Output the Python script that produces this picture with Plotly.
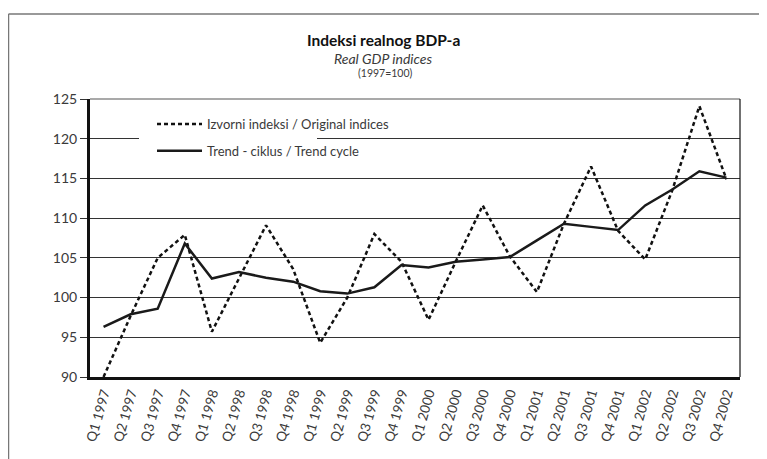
import plotly.graph_objects as go

quarters = ["Q1 1997","Q2 1997","Q3 1997","Q4 1997",
            "Q1 1998","Q2 1998","Q3 1998","Q4 1998",
            "Q1 1999","Q2 1999","Q3 1999","Q4 1999",
            "Q1 2000","Q2 2000","Q3 2000","Q4 2000",
            "Q1 2001","Q2 2001","Q3 2001","Q4 2001",
            "Q1 2002","Q2 2002","Q3 2002","Q4 2002"]
original = [90.0, 97.7, 105.0, 107.9,
            95.7, 102.5, 109.1, 103.6,
            94.3, 100.0, 108.0, 104.5,
            97.2, 104.5, 111.6, 105.2,
            100.7, 109.3, 116.5, 108.4,
            104.8, 113.5, 124.1, 114.9]
trend = [96.3, 97.9, 98.6, 106.8,
         102.4, 103.2, 102.5, 102.0,
         100.8, 100.5, 101.3, 104.1,
         103.8, 104.5, 104.8, 105.1,
         107.2, 109.3, 108.9, 108.5,
         111.6, 113.6, 115.9, 115.1]
y_ticks = [90, 95, 100, 105, 110, 115, 120, 125]

FONT = "Lato"
TXT = "#3a3a3a"

fig = go.Figure()
fig.add_trace(go.Scatter(x=quarters, y=original, mode="lines",
                         name="Izvorni indeksi / Original indices",
                         line=dict(color="#111111", width=2.5, dash="4px,3px"),
                         legendgroup="a"))
fig.add_trace(go.Scatter(x=quarters, y=trend, mode="lines",
                         name="Trend - ciklus / Trend cycle",
                         line=dict(color="#1a1a1a", width=2.5),
                         legendgroup="b"))

# The page body adds an 8px offset; work in page pixel coordinates.
OFF = 8
W, H = 767 - OFF, 459 - OFF
PL, PR, PT, PB = 90, 740, 99, 377          # plot area in page pixels
L, R, T, B = PL - OFF, W - (PR - OFF), PT - OFF, H - (PB - OFF)
pw, ph = W - L - R, H - T - B

def px(x):
    return (x - OFF - L) / pw

def py(y):
    return (H - B - (y - OFF)) / ph

fig.update_layout(
    width=W, height=H,
    margin=dict(l=L, r=R, t=T, b=B, autoexpand=False),
    paper_bgcolor="white", plot_bgcolor="white",
    font=dict(family=FONT, color=TXT, size=12),
    showlegend=True,
    legend=dict(x=px(152), y=py(109), xanchor="left", yanchor="top",
                bgcolor="rgba(0,0,0,0)", font=dict(size=13, color=TXT),
                tracegroupgap=7, itemwidth=45),
    xaxis=dict(type="category", range=[-0.5, 23.5], showgrid=False,
               showline=True, linecolor="#111111", linewidth=3,
               ticks="", tickangle=-74, tickfont=dict(size=13.5, color=TXT),
               zeroline=False, automargin=False),
    yaxis=dict(range=[90, 125], tickvals=y_ticks, showgrid=True,
               gridcolor="#333333", gridwidth=1,
               showline=True, linecolor="#111111", linewidth=3,
               ticks="outside", ticklen=7, tickcolor="#333333", tickwidth=1,
               tickfont=dict(size=14, color=TXT), zeroline=False,
               automargin=False),
    shapes=[
        # mask behind legend over the 120 gridline
        dict(type="rect", xref="paper", yref="paper",
             x0=px(139), x1=px(317), y0=py(142), y1=py(136),
             fillcolor="white", line=dict(width=0), layer="above"),
        # thin top and right plot borders
        dict(type="line", xref="paper", yref="paper", x0=0, x1=1, y0=1, y1=1,
             line=dict(color="#555555", width=1.2)),
        dict(type="line", xref="paper", yref="paper", x0=1, x1=1, y0=0, y1=1,
             line=dict(color="#111111", width=1.2)),
        # outer frame (left and top)
        dict(type="line", xref="paper", yref="paper",
             x0=px(8.5), x1=px(8.5), y0=py(14), y1=py(470),
             line=dict(color="#777777", width=1.5)),
        dict(type="line", xref="paper", yref="paper",
             x0=px(8.5), x1=px(780), y0=py(14), y1=py(14),
             line=dict(color="#777777", width=1.5)),
    ],
    annotations=[
        dict(text="<b>Indeksi realnog BDP-a</b>", xref="paper", yref="paper",
             x=px(383), y=py(40), showarrow=False, xanchor="center", yanchor="middle",
             font=dict(size=15.5, color="#111111", family=FONT)),
        dict(text="<i>Real GDP indices</i>", xref="paper", yref="paper",
             x=px(383), y=py(58), showarrow=False, xanchor="center", yanchor="middle",
             font=dict(size=14, color=TXT, family=FONT)),
        dict(text="(1997=100)", xref="paper", yref="paper",
             x=px(385), y=py(73), showarrow=False, xanchor="center", yanchor="middle",
             font=dict(size=10.5, color=TXT, family=FONT)),
    ],
)

fig.write_html("out.html")
